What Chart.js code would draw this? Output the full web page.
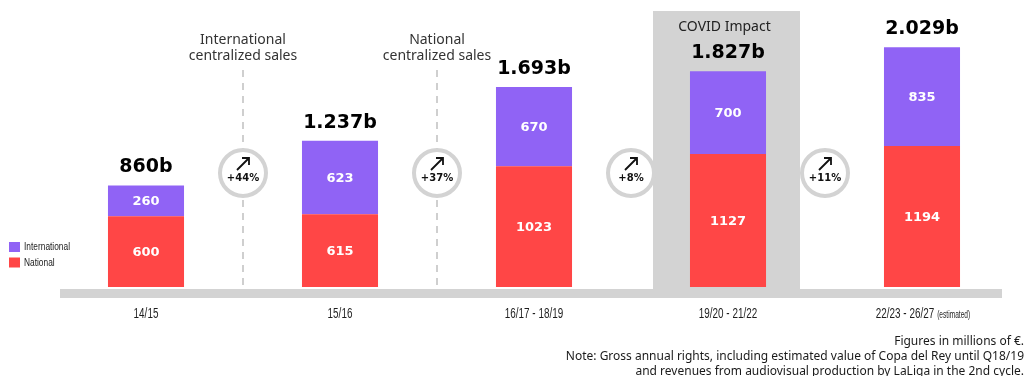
<!DOCTYPE html>
<html>
<head>
<meta charset="utf-8">
<script src="https://cdn.jsdelivr.net/npm/chart.js@4/dist/chart.umd.min.js"></script>
<style>
  html, body { margin: 0; padding: 0; background: #fff; }
  #wrap { position: relative; width: 1027px; height: 376px; }
</style>
</head>
<body>
<div id="wrap"><canvas id="rights" width="1027" height="376"></canvas></div>
<script>
// Broadcasting rights per cycle, millions of €
const seasons = ['14/15', '15/16', '16/17 - 18/19', '19/20 - 21/22', '22/23 - 26/27'];
const seasonSuffix = ['', '', '', '', '(estimated)'];
const national = [600, 615, 1023, 1127, 1194];
const international = [260, 623, 670, 700, 835];
const totalLabels = ['860b', '1.237b', '1.693b', '1.827b', '2.029b'];
const growthLabels = ['+44%', '+37%', '+8%', '+11%'];
const milestoneLabels = [['International', 'centralized sales'], ['National', 'centralized sales'], null, null];
const covidIndex = 3;
const covidLabel = 'COVID Impact';
const noteLines = [
  'Figures in millions of €.',
  'Note: Gross annual rights, including estimated value of Copa del Rey until Q18/19',
  'and revenues from audiovisual production by LaLiga in the 2nd cycle.'
];

const RED = '#ff4646';
const PURPLE = '#9063f5';
const GREY = '#d3d3d3';
const NARROW = '"Liberation Sans", Arial, sans-serif';

// draws text horizontally compressed to mimic a condensed face
function condensedText(ctx, text, x, y, size, squeeze, align) {
  ctx.save();
  ctx.font = size + 'px ' + NARROW;
  const w = ctx.measureText(text).width * squeeze;
  let left = x;
  if (align === 'center') left = x - w / 2;
  ctx.translate(left, y);
  ctx.scale(squeeze, 1);
  ctx.textAlign = 'left';
  ctx.fillText(text, 0, 0);
  ctx.restore();
  return w;
}

const decor = {
  id: 'decor',
  beforeDatasetsDraw(chart) {
    const { ctx, chartArea, scales: { x } } = chart;
    const bottom = chartArea.bottom;
    ctx.save();
    // COVID shaded column
    const cx = x.getPixelForValue(covidIndex) - 1.5;
    ctx.fillStyle = GREY;
    ctx.fillRect(cx - 73.5, 11, 147, bottom + 2 - 11);
    // baseline band
    ctx.fillRect(60, bottom + 2, 942, 9);

    const centers = seasons.map((_, i) => x.getPixelForValue(i));
    const cy = 173;
    for (let i = 0; i < centers.length - 1; i++) {
      const gx = (centers[i] + centers[i + 1]) / 2;
      if (milestoneLabels[i]) {
        ctx.strokeStyle = '#cfcfcf';
        ctx.lineWidth = 2;
        ctx.setLineDash([7, 6]);
        ctx.beginPath();
        ctx.moveTo(gx, 70);
        ctx.lineTo(gx, bottom + 2);
        ctx.stroke();
        ctx.setLineDash([]);
        ctx.fillStyle = '#333';
        ctx.font = '14px "Noto Sans", sans-serif';
        ctx.textAlign = 'center';
        ctx.textBaseline = 'middle';
        ctx.fillText(milestoneLabels[i][0], gx, 40);
        ctx.fillText(milestoneLabels[i][1], gx, 56);
      }
      // growth badge
      ctx.beginPath();
      ctx.arc(gx, cy, 23, 0, Math.PI * 2);
      ctx.fillStyle = '#fff';
      ctx.fill();
      ctx.strokeStyle = GREY;
      ctx.lineWidth = 4;
      ctx.stroke();
      ctx.strokeStyle = '#111';
      ctx.lineWidth = 1.8;
      ctx.beginPath();
      ctx.moveTo(gx - 6, cy - 3);
      ctx.lineTo(gx + 6, cy - 15);
      ctx.moveTo(gx - 1, cy - 15);
      ctx.lineTo(gx + 6, cy - 15);
      ctx.lineTo(gx + 6, cy - 8);
      ctx.stroke();
      ctx.fillStyle = '#111';
      ctx.font = 'bold 10px "DejaVu Sans", sans-serif';
      ctx.textAlign = 'center';
      ctx.textBaseline = 'middle';
      ctx.fillText(growthLabels[i], gx, cy + 5);
    }

    // COVID caption
    ctx.fillStyle = '#222';
    ctx.font = '14px "Noto Sans", sans-serif';
    ctx.textAlign = 'center';
    ctx.textBaseline = 'middle';
    ctx.fillText(covidLabel, cx - 2, 27);
    ctx.restore();
  },
  afterDatasetsDraw(chart) {
    const { ctx, scales: { x } } = chart;
    ctx.save();
    ctx.textAlign = 'center';
    ctx.textBaseline = 'middle';
    // segment values
    chart.data.datasets.forEach((ds, di) => {
      const meta = chart.getDatasetMeta(di);
      meta.data.forEach((bar, i) => {
        ctx.fillStyle = '#fff';
        ctx.font = 'bold 13px "DejaVu Sans", sans-serif';
        ctx.fillText(String(ds.data[i]), bar.x, (bar.y + bar.base) / 2 + 1);
      });
    });
    // totals above the stacks
    const topMeta = chart.getDatasetMeta(chart.data.datasets.length - 1);
    topMeta.data.forEach((bar, i) => {
      ctx.fillStyle = '#000';
      ctx.font = 'bold 19px "DejaVu Sans", sans-serif';
      ctx.fillText(totalLabels[i], bar.x, bar.y - 18);
    });
    // season labels
    ctx.fillStyle = '#1e1e1e';
    ctx.textBaseline = 'middle';
    const sq = 0.66;
    seasons.forEach((s, i) => {
      const px = x.getPixelForValue(i);
      if (seasonSuffix[i]) {
        ctx.save();
        ctx.font = '15px ' + NARROW;
        const w1 = ctx.measureText(s).width * sq;
        ctx.font = '10px ' + NARROW;
        const w2 = ctx.measureText(seasonSuffix[i]).width * sq;
        ctx.restore();
        const start = px - (w1 + 3 + w2) / 2 + 1;
        condensedText(ctx, s, start, 314, 15, sq, 'left');
        condensedText(ctx, seasonSuffix[i], start + w1 + 3, 315, 10, sq, 'left');
      } else {
        condensedText(ctx, s, px, 314, 15, sq, 'center');
      }
    });
    // legend
    const items = [chart.data.datasets[1], chart.data.datasets[0]];
    items.forEach((ds, k) => {
      const y = 242 + k * 15.5;
      ctx.fillStyle = ds.backgroundColor;
      ctx.fillRect(9, y, 11, 10);
      ctx.fillStyle = '#222';
      condensedText(ctx, ds.label, 24, y + 5, 11, 0.76, 'left');
    });
    // footnotes
    ctx.fillStyle = '#1a1a1a';
    ctx.font = '12px "Noto Sans", sans-serif';
    ctx.textAlign = 'right';
    noteLines.forEach((line, k) => {
      ctx.fillText(line, 1024, 342 + k * 15);
    });
    ctx.restore();
  }
};

new Chart(document.getElementById('rights'), {
  type: 'bar',
  data: {
    labels: seasons,
    datasets: [
      { label: 'National', data: national, backgroundColor: RED },
      { label: 'International', data: international, backgroundColor: PURPLE }
    ]
  },
  options: {
    responsive: false,
    devicePixelRatio: 1,
    animation: false,
    events: [],
    categoryPercentage: 1,
    barPercentage: 0.392,
    layout: { padding: { left: 49, right: 8, top: 0, bottom: 89 } },
    plugins: { legend: { display: false }, tooltip: { enabled: false } },
    scales: {
      x: { display: false, stacked: true },
      y: { display: false, stacked: true, min: 0, max: 2430 }
    }
  },
  plugins: [decor]
});
</script>
</body>
</html>
